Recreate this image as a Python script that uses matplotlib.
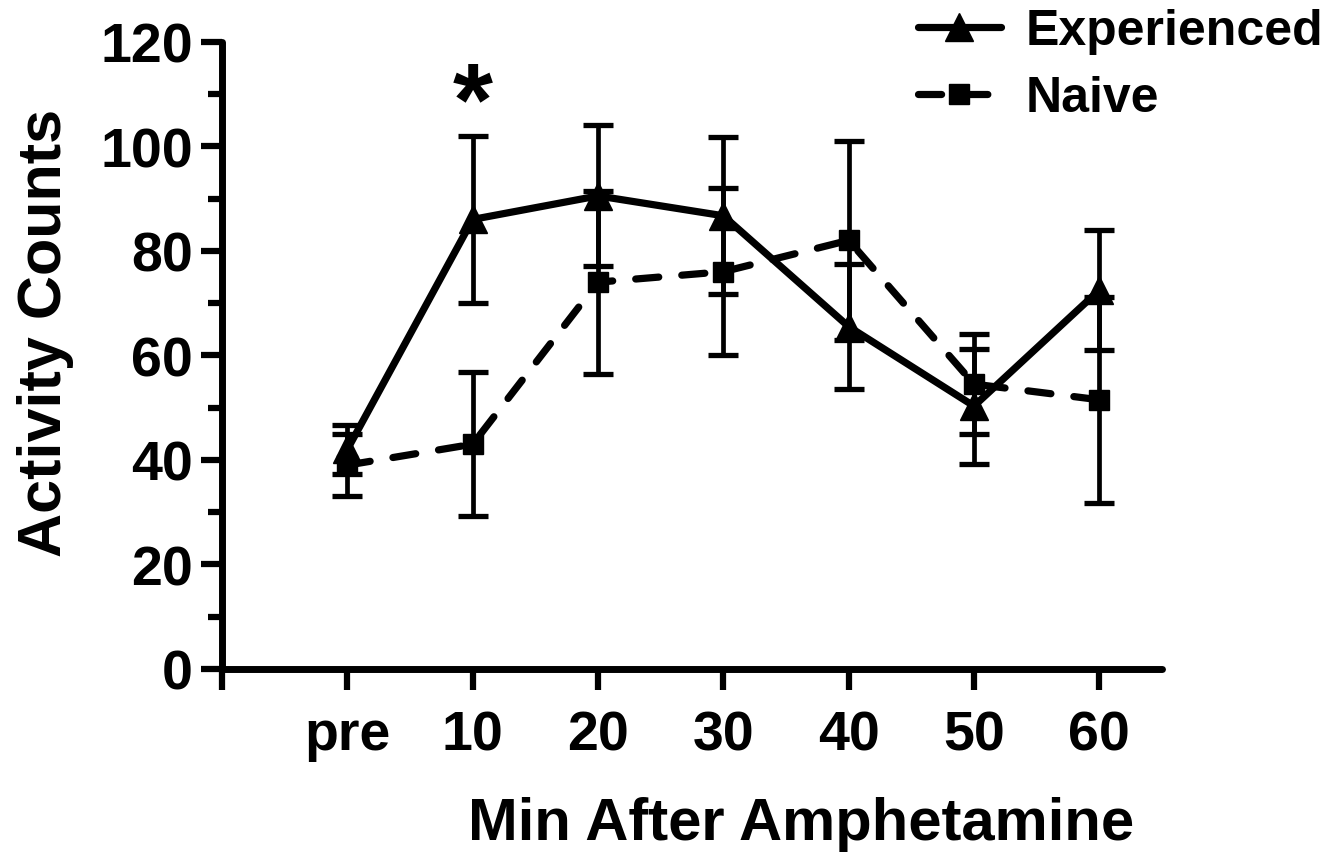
import matplotlib
matplotlib.use("Agg")
import matplotlib.pyplot as plt
from matplotlib.ticker import MultipleLocator, FixedLocator

# ---- data ----
categories = ["pre", "10", "20", "30", "40", "50", "60"]
exp_mean = [42, 86, 90.5, 86.7, 65.5, 50.3, 72.5]
exp_err = [4.7, 16, 13.5, 15, 12, 11, 11.5]
naive_mean = [39, 43, 74, 76, 82, 54.5, 51.5]
naive_err = [6, 13.8, 17.5, 16, 19, 9.5, 19.7]
yticks = [0, 20, 40, 60, 80, 100, 120]
xlabel = "Min After Amphetamine"
ylabel = "Activity Counts"
legend_labels = ["Experienced", "Naive"]
sig_index = 1

plt.rcParams['font.family'] = ['Liberation Sans', 'DejaVu Sans']
plt.rcParams['font.weight'] = 'bold'

W, H = 1342, 862
fig = plt.figure(figsize=(W / 100, H / 100), dpi=100)
ax = fig.add_axes([222 / W, (H - 670) / H, (1162 - 222) / W, (670 - 42.7) / H])

x = list(range(len(categories)))

ax.errorbar(x, exp_mean, yerr=exp_err, fmt='none', ecolor='black',
            elinewidth=3.4, capsize=10.5, capthick=3.8, zorder=2)
ax.errorbar(x, naive_mean, yerr=naive_err, fmt='none', ecolor='black',
            elinewidth=3.4, capsize=10.5, capthick=3.8, zorder=2)

l1, = ax.plot(x, exp_mean, color='black', lw=5.2, marker='^', markersize=20,
              solid_capstyle='round', label=legend_labels[0], zorder=3)
l2, = ax.plot(x, naive_mean, color='black', lw=5.2, marker='s', markersize=14,
              linestyle=(0, (3.2, 3.2)), dash_capstyle='round',
              label=legend_labels[1], zorder=3)

ax.set_xlim(-1, 6.5)
ax.set_ylim(0, 120)

for s in ['top', 'right']:
    ax.spines[s].set_visible(False)
for s in ['left', 'bottom']:
    ax.spines[s].set_linewidth(5)
    ax.spines[s].set_capstyle('round')

ax.xaxis.set_major_locator(FixedLocator([-1] + x))
ax.set_xticklabels([''] + categories)
ax.yaxis.set_major_locator(FixedLocator(yticks))
ax.yaxis.set_minor_locator(MultipleLocator(10))
ax.tick_params(axis='both', which='major', direction='out', width=4.5,
               length=15, labelsize=40)
ax.tick_params(axis='y', which='minor', direction='out', width=4.5, length=10)
ax.tick_params(axis='x', pad=14)
ax.tick_params(axis='y', pad=6)
for lab in ax.get_xticklabels() + ax.get_yticklabels():
    lab.set_fontweight('bold')

ax.text(sig_index, 102.2, '*', ha='center', va='baseline', fontsize=74,
        fontweight='bold')

fig.text(801 / W, 1 - 840 / H, xlabel, ha='center', va='baseline',
         fontsize=43, fontweight='bold')
fig.text(46 / W, 1 - 333 / H, ylabel, ha='center', va='center',
         rotation=90, fontsize=44, fontweight='bold')

leg = ax.legend(handles=[l1, l2], loc='upper left',
                bbox_to_anchor=(918 / W, 1 - 9 / H),
                bbox_transform=fig.transFigure, frameon=False,
                fontsize=36, handlelength=1.65, handletextpad=0.5,
                labelspacing=0.42, borderpad=0, borderaxespad=0)
for t in leg.get_texts():
    t.set_fontweight('bold')

fig.savefig("out.png", dpi=100)
